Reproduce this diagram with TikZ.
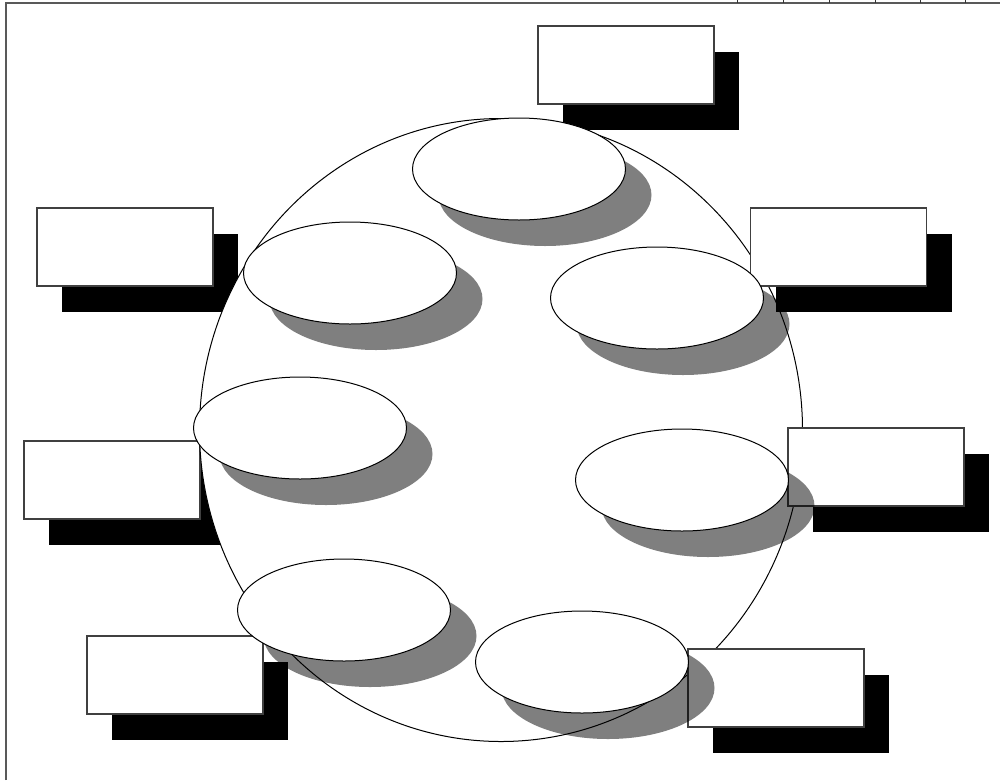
\documentclass[tikz,border=0pt]{standalone}
\usetikzlibrary{shapes.geometric}
\begin{document}
\begin{tikzpicture}[x=1pt,y=-1pt,
  frameline/.style={draw=black!65, line width=1.6pt},
  tickline/.style={draw=black!80, line width=1pt},
  boxshadow/.style={rectangle, fill=black, minimum width=176pt, minimum height=78pt, inner sep=0pt},
  box/.style={rectangle, draw=black!75, fill=white, line width=1.1pt, minimum width=176pt, minimum height=78pt, inner sep=0pt},
  ovalshadow/.style={ellipse, fill=black, fill opacity=0.5, minimum width=213pt, minimum height=102pt, inner sep=0pt},
  oval/.style={ellipse, draw=black, fill=white, line width=1pt, minimum width=213pt, minimum height=102pt, inner sep=0pt},
  bigcircle/.style={ellipse, draw=black, fill=white, line width=1pt, minimum width=603pt, minimum height=623pt, inner sep=0pt}]
\useasboundingbox (0,0) rectangle (1000,780);
% frame
\coordinate (fTL) at (6,3);
\coordinate (fTR) at (1000,3);
\coordinate (fBL) at (6,780);
\draw[frameline] (fBL) -- (fTL) -- (fTR);
\foreach \x in {737,783,829,875,920,965} {
  \coordinate (t\x a) at (\x,0);
  \coordinate (t\x b) at (\x,3);
  \draw[tickline] (t\x a) -- (t\x b);
}
% left boxes (under the circle)
\node[boxshadow] (sB) at (150,273) {};
\node[box] (B) at (125,247) {};
\node[boxshadow] (sD) at (137,506) {};
\node[box] (D) at (112,480) {};
\node[boxshadow] (sF) at (200,701) {};
\node[box] (F) at (175,675) {};
% big circle
\node[bigcircle] (circ) at (501,430) {};
% right boxes (over the circle)
\node[boxshadow] (sA) at (651,91) {};
\node[box] (A) at (626,65) {};
\node[boxshadow] (sC) at (863.5,273) {};
\node[box] (C) at (838.5,247) {};
\node[boxshadow] (sE) at (901,493) {};
\node[box] (E) at (876,467) {};
\node[boxshadow] (sG) at (801,714) {};
\node[box] (G) at (776,688) {};
% ovals
\node[ovalshadow] (s1) at (545,195) {};
\node[oval] (o1) at (519,169) {};
\node[ovalshadow] (s2) at (376,299) {};
\node[oval] (o2) at (350,273) {};
\node[ovalshadow] (s3) at (683,324) {};
\node[oval] (o3) at (657,298) {};
\node[ovalshadow] (s4) at (326,454) {};
\node[oval] (o4) at (300,428) {};
\node[ovalshadow] (s5) at (708,506) {};
\node[oval] (o5) at (682,480) {};
\node[ovalshadow] (s6) at (370,636) {};
\node[oval] (o6) at (344,610) {};
\node[ovalshadow] (s7) at (608,688) {};
\node[oval] (o7) at (582,662) {};
\end{tikzpicture}
\end{document}
